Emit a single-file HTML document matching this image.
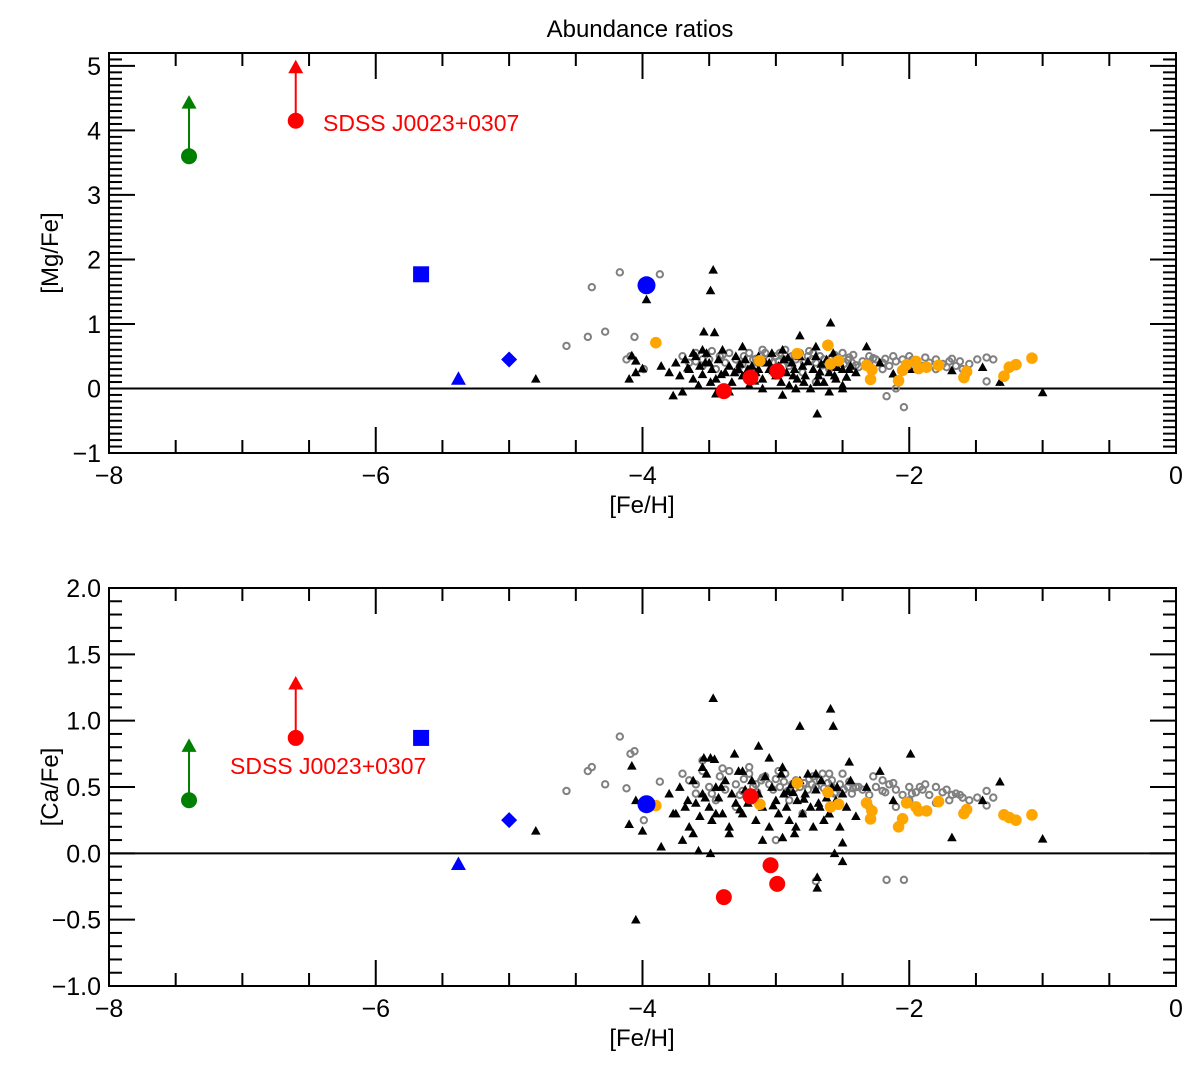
<!DOCTYPE html>
<html><head><meta charset="utf-8"><style>
html,body{margin:0;padding:0;background:#fff;}
svg{display:block;font-family:"Liberation Sans",sans-serif;}
</style></head><body>
<svg id="chart" width="1200" height="1067" viewBox="0 0 1200 1067" xmlns="http://www.w3.org/2000/svg">
<text x="640" y="37" font-size="24" text-anchor="middle">Abundance ratios</text>
</svg>
<script>
// ---- data ----
const orangeFe=[-3.9,-2.84,-2.61,-3.12,-2.53,-2.59,-2.32,-2.28,-2.29,-2.08,-2.05,-2.02,-1.95,-1.93,-1.87,-1.78,-1.59,-1.57,-1.29,-1.25,-1.2,-1.08];
const orangeMg=[0.71,0.54,0.67,0.43,0.43,0.38,0.36,0.29,0.14,0.12,0.28,0.37,0.42,0.31,0.33,0.36,0.17,0.26,0.19,0.33,0.37,0.47];
const orangeCa=[0.36,0.53,0.46,0.37,0.37,0.35,0.38,0.32,0.26,0.2,0.26,0.38,0.35,0.32,0.32,0.39,0.3,0.33,0.29,0.27,0.25,0.29];
const blackFe=[-3.47,-3.49,-3.97,-2.59,-3.54,-3.46,-2.82,-2.57,-4.08,-4.05,-4.0,-4.1,-3.77,-2.69,-2.69,-1.0,-1.32,-1.45,-2.32,-1.68,-2.12,-1.99,-2.22,-3.86,-3.58,-3.49,-2.5,-2.5,-2.56,-4.05,-3.13,-3.31,-3.05,-2.45,-4.8,
-3.8,-3.75,-3.72,-3.68,-3.65,-3.62,-3.6,-3.57,-3.55,-3.52,-3.5,-3.48,-3.45,-3.43,-3.4,-3.38,-3.35,-3.33,-3.3,-3.28,-3.25,-3.23,-3.2,-3.18,-3.15,-3.13,-3.1,-3.08,-3.05,-3.03,-3.0,-2.98,-2.96,-2.94,-2.92,-2.9,-2.88,-2.86,-2.84,-2.82,-2.8,-2.78,-2.76,-2.74,-2.72,-2.7,-2.68,-2.66,-2.64,-2.62,-2.6,-2.58,-2.55,-2.52,-2.5,-2.47,-2.44,-2.4,-3.7,-3.35,-3.1,-2.95,-2.85,-3.55,-3.25,-2.95,-2.7,-3.45,-3.62,-2.6,
-3.66,-3.41,-3.27,-3.16,-3.02,-2.91,-2.79,-2.67,-2.54,-3.53,-3.21,-2.87];
const blackMg=[1.84,1.52,1.38,1.02,0.88,0.87,0.82,0.55,0.51,0.43,0.31,0.15,-0.11,-0.39,0.1,-0.06,0.1,0.33,0.65,0.28,0.23,0.3,0.4,0.35,0.05,0.1,0.05,0.0,0.2,0.25,0.3,0.25,0.4,0.3,0.15,
0.25,0.4,0.2,0.45,0.3,0.15,0.5,0.35,0.22,0.55,0.4,0.3,0.15,0.45,0.6,0.25,0.35,0.1,0.5,0.3,0.2,0.45,0.05,0.35,0.25,0.5,0.15,0.4,0.3,0.55,0.2,0.35,0.1,0.45,0.25,0.05,0.4,0.3,0.15,0.5,0.35,0.2,0.42,0.0,0.3,0.5,0.2,0.38,0.1,0.45,0.25,0.35,0.15,0.4,0.3,0.18,0.35,0.25,-0.05,-0.05,0.0,-0.1,0.0,0.6,0.65,0.6,0.65,-0.08,0.55,-0.05,
0.32,0.22,0.38,0.12,0.28,0.48,0.1,0.26,0.33,0.4,0.3,0.2];
const blackCa=[1.17,0.72,0.37,1.09,0.72,0.71,0.96,0.96,0.66,0.4,0.17,0.22,0.3,-0.26,-0.18,0.11,0.54,0.4,0.5,0.12,0.4,0.75,0.62,0.05,0.02,0.0,0.08,-0.06,0.0,-0.5,0.81,0.75,0.72,0.69,0.17,
0.45,0.3,0.5,0.35,0.2,0.55,0.38,0.28,0.45,0.6,0.35,0.25,0.5,0.42,0.3,0.55,0.2,0.45,0.38,0.62,0.3,0.48,0.4,0.55,0.25,0.45,0.35,0.58,0.2,0.5,0.4,0.3,0.6,0.45,0.35,0.25,0.52,0.15,0.4,0.55,0.3,0.45,0.6,0.35,0.2,0.48,0.38,0.55,0.25,0.42,0.3,0.5,0.4,0.2,0.45,0.35,0.55,0.28,0.1,0.15,0.1,0.12,0.2,0.65,0.62,0.65,0.6,0.3,0.15,0.3,
0.4,0.5,0.33,0.44,0.36,0.47,0.41,0.35,0.5,0.42,0.38,0.46];
const grayFe=[-4.17,-3.87,-4.28,-4.06,-4.38,-4.41,-4.57,-4.09,-4.12,-3.99,-2.17,-2.04,-2.1,-2.7,-1.42,-1.42,-1.37,-1.49,
-3.7,-3.65,-3.6,-3.55,-3.5,-3.45,-3.42,-3.38,-3.35,-3.3,-3.27,-3.24,-3.2,-3.17,-3.14,-3.11,-3.08,-3.05,-3.02,-3.0,-2.97,-2.94,-2.91,-2.88,-2.85,-2.82,-2.79,-2.76,-2.73,-2.7,-2.67,-2.64,-2.61,-2.58,-2.55,-2.52,-2.49,-2.46,-2.43,-2.4,-2.35,-2.3,-2.25,-2.2,-2.15,-2.1,-2.05,-2.0,-1.95,-1.9,-1.85,-1.8,-1.75,-1.7,-1.65,-1.6,-1.55,-3.3,-3.0,-2.8,-2.6,-3.55,-3.2,-2.9,-2.5,-2.3,-2.2,-2.0,-1.8,
-3.6,-3.4,-3.25,-3.1,-2.98,-2.86,-2.75,-2.65,-2.56,-2.45,-2.38,-2.27,-2.12,-1.98,-1.88,-1.72,-1.62,-3.48,-3.15,-2.93,-2.72,-2.58,-2.42,-2.18,-1.92,-1.68];
const grayMg=[1.8,1.77,0.88,0.8,1.57,0.8,0.66,0.5,0.45,0.3,-0.12,-0.29,0.0,0.1,0.11,0.48,0.45,0.45,
0.5,0.4,0.55,0.35,0.45,0.3,0.5,0.4,0.55,0.45,0.35,0.5,0.55,0.45,0.4,0.5,0.55,0.45,0.4,0.5,0.55,0.45,0.4,0.5,0.45,0.55,0.4,0.5,0.45,0.4,0.5,0.45,0.4,0.48,0.42,0.45,0.38,0.44,0.4,0.36,0.42,0.38,0.45,0.4,0.35,0.42,0.45,0.38,0.42,0.35,0.4,0.45,0.38,0.42,0.35,0.3,0.38,0.25,0.2,0.25,0.3,0.45,0.3,0.35,0.55,0.5,0.3,0.5,0.3,
0.42,0.52,0.38,0.6,0.42,0.5,0.58,0.36,0.52,0.48,0.33,0.47,0.5,0.44,0.48,0.33,0.42,0.58,0.46,0.6,0.55,0.4,0.52,0.46,0.3,0.46];
const grayCa=[0.88,0.54,0.52,0.77,0.65,0.62,0.47,0.75,0.49,0.25,-0.2,-0.2,0.35,-0.21,0.36,0.47,0.42,0.42,
0.6,0.55,0.45,0.62,0.5,0.4,0.58,0.48,0.62,0.52,0.44,0.56,0.6,0.5,0.46,0.55,0.58,0.52,0.48,0.56,0.5,0.54,0.47,0.52,0.55,0.5,0.53,0.48,0.52,0.5,0.55,0.49,0.53,0.5,0.46,0.52,0.48,0.5,0.45,0.5,0.48,0.44,0.5,0.47,0.52,0.48,0.44,0.5,0.46,0.48,0.44,0.5,0.46,0.4,0.45,0.42,0.4,0.35,0.1,0.3,0.6,0.7,0.65,0.4,0.6,0.35,0.55,0.4,0.38,
0.52,0.64,0.47,0.57,0.62,0.49,0.56,0.6,0.45,0.54,0.5,0.58,0.53,0.45,0.52,0.48,0.44,0.45,0.52,0.6,0.58,0.55,0.49,0.46,0.5,0.44];
const redFe=[-3.39,-3.19,-2.99];
const redMg=[-0.04,0.17,0.27];
const redCa=[-0.33,0.43,-0.23];
const redFe2=[-3.04];
const redCa2=[-0.09];
const starFe=[-7.4,-6.6]; // green, SDSS J0023+0307
const starMg=[3.6,4.15];
const starMgLim=[4.43,4.98];
const starCa=[0.4,0.87];
const starCaLim=[0.81,1.28];
const blueFe=[-3.97,-5.66,-5.0,-5.38]; // circle, square, diamond, triangle
const blueMg=[1.6,1.77,0.45,0.15];
const blueCa=[0.37,0.87,0.25,-0.08];
const xTicks=[-8,-6,-4,-2,0];
const yTicksMg=[-1,0,1,2,3,4,5];
const yTicksCa=[-1.0,-0.5,0.0,0.5,1.0,1.5,2.0];

const NS='http://www.w3.org/2000/svg';
const svg=document.getElementById('chart');
function mk(tag,attrs,parent){const e=document.createElementNS(NS,tag);for(const k in attrs)e.setAttribute(k,attrs[k]);(parent||svg).appendChild(e);return e;}
const L=109,R=1176;
function xs(v){return L+(v+8)/8*(R-L);}

function panel(p){
  const g=mk('g',{});
  
  
  const ys=v=>p.bot-(v-p.ymin)/(p.ymax-p.ymin)*(p.bot-p.top);
  const fr=mk('rect',{x:L,y:p.top,width:R-L,height:p.bot-p.top,fill:'none',stroke:'#000','stroke-width':2},g);
  
  
  for(let v=-8;v<=0.001;v+=0.5){
    const maj=Math.abs(v/2-Math.round(v/2))<1e-6;const len=maj?26:13;const x=xs(v);
    mk('line',{x1:x,y1:p.bot,x2:x,y2:p.bot-len,stroke:'#000','stroke-width':2},g);
    mk('line',{x1:x,y1:p.top,x2:x,y2:p.top+len,stroke:'#000','stroke-width':2},g);
  }
  xTicks.forEach(v=>{const t=mk('text',{x:xs(v),y:p.bot+31,'font-size':25,'text-anchor':'middle'},g);t.textContent=(v<0?'\u2212'+(-v):''+v);
    
    });
  const n=Math.round((p.ymax-p.ymin)/p.minor);
  for(let i=0;i<=n;i++){const v=p.ymin+i*p.minor;if(v>p.ymaxTick+1e-6)break;
    const r=v/p.major;const maj=Math.abs(r-Math.round(r))<1e-6;const len=maj?26:13;const y=ys(v);
    mk('line',{x1:L,y1:y,x2:L+len,y2:y,stroke:'#000','stroke-width':2},g);
    mk('line',{x1:R,y1:y,x2:R-len,y2:y,stroke:'#000','stroke-width':2},g);}
  p.yTicks.forEach(v=>{const t=mk('text',{x:L-8,y:ys(v)+9,'font-size':25,'text-anchor':'end'},g);
    t.textContent=(v<0?'\u2212':'')+(p.dec?Math.abs(v).toFixed(1):Math.abs(v));
    
    });
  const xl=mk('text',{x:642,y:p.bot+60,'font-size':24,'text-anchor':'middle'},g);xl.textContent='[Fe/H]';
  
  
  const yc=(p.top+p.bot)/2;
  const yl=mk('text',{x:58,y:yc,'font-size':24,'text-anchor':'middle',transform:`rotate(-90 58 ${yc})`},g);yl.textContent=p.ylabel;
  
  
  const zl=mk('line',{x1:L,y1:ys(0),x2:R,y2:ys(0),stroke:'#000','stroke-width':2},g);
  
  
  const tri=(x,y,s,col,name)=>{const e=mk('polygon',{points:`${x},${y-s} ${x-s},${y+s*0.8} ${x+s},${y+s*0.8}`,fill:col},g);
    
    return e;};
  grayFe.forEach((f,i)=>{const c=mk('circle',{cx:xs(f),cy:ys(p.gray[i]),r:3.2,fill:'none',stroke:'#808080','stroke-width':2},g);
    
    });
  blackFe.forEach((f,i)=>{tri(xs(f),ys(p.black[i]),4.8,'#000','comparison-star-triangle');});
  orangeFe.forEach((f,i)=>{const c=mk('circle',{cx:xs(f),cy:ys(p.orange[i]),r:5.8,fill:'#ffa500'},g);
    
    });
  p.redFe.forEach((f,i)=>{const c=mk('circle',{cx:xs(f),cy:ys(p.red[i]),r:8,fill:'#ff0000'},g);
    
    });
  let bx=xs(blueFe[0]),by=ys(p.blue[0]);
  const bc=mk('circle',{cx:bx,cy:by,r:9,fill:'#0000ff'},g);
  
  
  bx=xs(blueFe[1]);by=ys(p.blue[1]);
  const bs=mk('rect',{x:bx-8,y:by-8,width:16,height:16,fill:'#0000ff'},g);
  
  
  bx=xs(blueFe[2]);by=ys(p.blue[2]);
  const bd=mk('polygon',{points:`${bx},${by-8} ${bx+8},${by} ${bx},${by+8} ${bx-8},${by}`,fill:'#0000ff'},g);
  
  
  tri(xs(blueFe[3]),ys(p.blue[3]),7.5,'#0000ff','blue-triangle');
  const cols=['#008000','#ff0000'];
  starFe.forEach((f,i)=>{const x=xs(f),y=ys(p.star[i]),yl2=ys(p.lim[i]);
    const ln=mk('line',{x1:x,y1:y,x2:x,y2:yl2,stroke:cols[i],'stroke-width':2},g);
    
    
    tri(x,yl2,7.5,cols[i],'lower-limit-arrowhead');
    const c=mk('circle',{cx:x,cy:y,r:8,fill:cols[i]},g);
    
    });
  const lb=mk('text',{x:p.lx,y:p.ly,'font-size':23,fill:'#ff0000'},g);lb.textContent='SDSS J0023+0307';
  
  
}
panel({name:'mg-panel',top:53,bot:453,ymin:-1,ymax:5.2,ymaxTick:5.2,minor:0.1,major:1,yTicks:yTicksMg,dec:false,ylabel:'[Mg/Fe]',
  black:blackMg,gray:grayMg,orange:orangeMg,redFe:redFe,red:redMg,blue:blueMg,star:starMg,lim:starMgLim,lx:323,ly:131});
panel({name:'ca-panel',top:588,bot:986,ymin:-1,ymax:2,ymaxTick:2,minor:0.1,major:0.5,yTicks:yTicksCa,dec:true,ylabel:'[Ca/Fe]',
  black:blackCa,gray:grayCa,orange:orangeCa,redFe:redFe.concat(redFe2),red:redCa.concat(redCa2),blue:blueCa,star:starCa,lim:starCaLim,lx:230,ly:774});
</script>
</body></html>
